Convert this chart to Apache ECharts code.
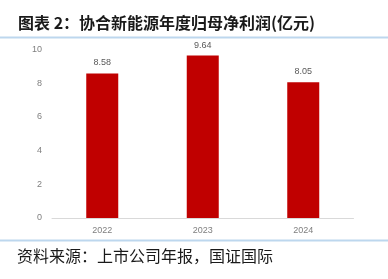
<!DOCTYPE html>
<html><head><meta charset="utf-8">
<script src="https://cdn.jsdelivr.net/npm/echarts@6/dist/echarts.min.js"></script>
<style>html,body{margin:0;padding:0;background:#fff}#c{width:388px;height:279px}</style>
</head><body><div id="c"></div>
<script>
var categories = ['2022', '2023', '2024'];
var profits = [8.58, 9.64, 8.05];
var yTicks = [0, 2, 4, 6, 8, 10];
var titleText = '图表 2：协合新能源年度归母净利润(亿元)';
var sourceText = '资料来源：上市公司年报，国证国际';

var chart = echarts.init(document.getElementById('c'), null, {renderer: 'canvas'});
chart.setOption({
  animation: false,
  backgroundColor: '#fff',
  grid: {left: 52, right: 34.5, top: 49.5, bottom: 61, containLabel: false},
  xAxis: {
    type: 'category', data: categories,
    axisLine: {lineStyle: {color: '#d9d9d9', width: 1}},
    axisTick: {show: false},
    axisLabel: {color: '#7f7f7f', fontSize: 9, fontFamily: 'Liberation Sans', margin: 8}
  },
  yAxis: {
    type: 'value', min: yTicks[0], max: yTicks[yTicks.length - 1], interval: 2,
    axisLine: {show: false}, axisTick: {show: false},
    splitLine: {show: false},
    axisLabel: {color: '#7f7f7f', fontSize: 9, fontFamily: 'Liberation Sans', margin: 10}
  },
  series: [{
    type: 'bar', data: profits, barWidth: 32,
    itemStyle: {color: '#c00000'},
    label: {show: true, position: 'top', color: '#595959', fontSize: 9, fontFamily: 'Liberation Sans', distance: 6,
      formatter: function (p) { return p.value.toFixed(2); }}
  }],
  graphic: [
    {type: 'text', left: 18, top: 15, style: {text: titleText, font: 'bold 16px "Noto Sans CJK SC"', fill: '#1a1a1a'}},
    {type: 'rect', shape: {x: 0, y: 36.5, width: 388, height: 2}, style: {fill: '#bdd7ee'}},
    {type: 'rect', shape: {x: 0, y: 239.5, width: 388, height: 2}, style: {fill: '#bdd7ee'}},
    {type: 'text', left: 17, top: 248, style: {text: sourceText, font: '16px "Noto Sans CJK SC"', fill: '#1a1a1a'}}
  ]
});
</script></body></html>
